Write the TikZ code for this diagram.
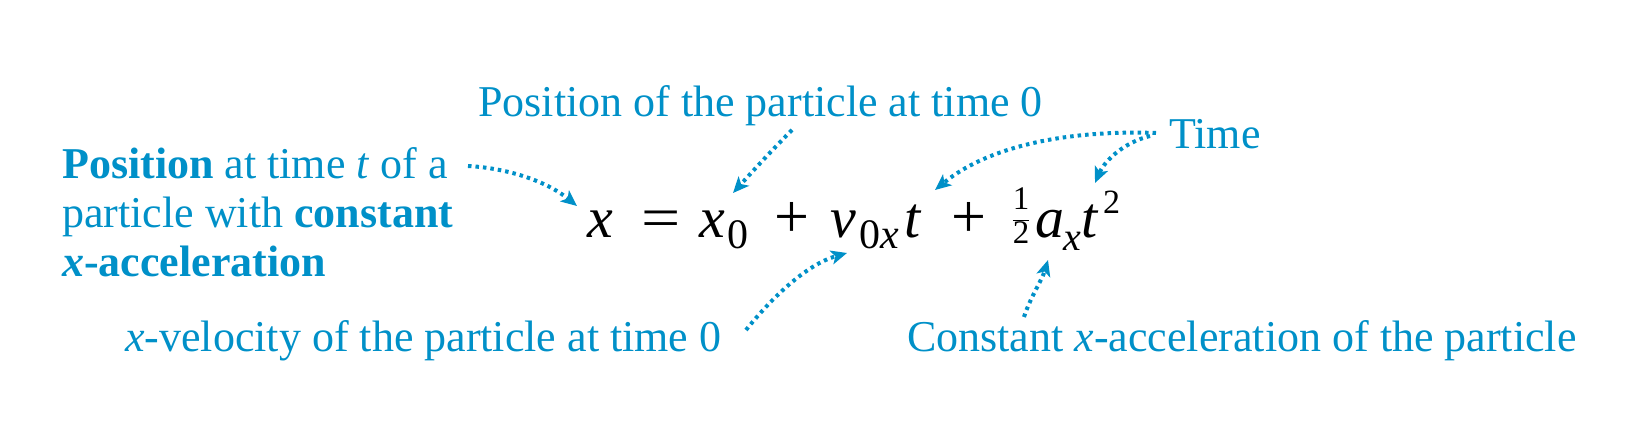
\documentclass[tikz,border=0pt]{standalone}
\usepackage{fontspec}
\setmainfont{Liberation Serif}
\usetikzlibrary{arrows.meta}
\definecolor{cblue}{RGB}{0,144,200}
\begin{document}
\begin{tikzpicture}[x=1pt,y=-1pt,
  lbl/.style={text=cblue, font=\fontsize{44}{49}\selectfont, inner sep=0pt, anchor=base west},
  eq/.style={font=\fontsize{58}{58}\selectfont\itshape, inner sep=0pt, anchor=base west},
  eqrm/.style={font=\fontsize{62}{62}\selectfont, inner sep=0pt, anchor=base west},
  sub/.style={font=\fontsize{42}{42}\selectfont, inner sep=0pt, anchor=base west},
  arr/.style={draw=cblue, line width=4pt, dash pattern=on 3.5pt off 4pt,
    -{Stealth[length=16pt,width=14pt,inset=4pt]}}]
\useasboundingbox (0,0) rectangle (1630,444);
% labels
\node[lbl, anchor=north west, align=left] (lpos) at (62,147)
  {\textbf{Position} at time \textit{t} of a\\ particle with \textbf{constant}\\ \textbf{\textit{x}-acceleration}};
\node[lbl] (ltop) at (478,116) {Position of the particle at time 0};
\node[lbl] (ltime) at (1169,148) {Time};
\node[lbl] (lvel) at (125,351) {\textit{x}-velocity of the particle at time 0};
\node[lbl] (lacc) at (907,351) {Constant \textit{x}-acceleration of the particle};
% equation
\def\B{237}
\node[eq] (ex) at (587,\B) {x};
\node[eq, font=\fontsize{58}{58}\selectfont] (eeq) at (641,\B) {\scalebox{1.2}[1]{=}};
\node[eq] (ex0) at (699,\B) {x};
\node[sub] (ex0s) at (727,248) {0};
\node[eqrm] (ep1) at (774,\B) {+};
\node[eq] (ev) at (830,\B) {v};
\node[sub] (evs) at (859,248) {0\textit{x}};
\node[eq] (et) at (904,\B) {t};
\node[eqrm] (ep2) at (951,\B) {+};
\node[inner sep=0pt, font=\fontsize{33}{33}\selectfont] (ehalf) at (1021,216) {$\displaystyle\frac{\textup{1}}{\textup{2}}$};
\node[eq] (ea) at (1035,\B) {a};
\node[sub, font=\fontsize{40}{40}\selectfont\itshape] (eas) at (1063,250) {x};
\node[eq] (ett) at (1081,\B) {t};
\node[sub, font=\fontsize{34}{34}\selectfont] (etts) at (1103,213) {2};
% arrows
\coordinate (s1) at (468,166);
\coordinate (s2) at (792,130);
\coordinate (s3) at (1156,133);
\coordinate (s4) at (1150,136);
\coordinate (s5) at (746,330);
\coordinate (s6) at (1024,317);
\draw[arr] (s1) .. controls (505,168) and (545,180) .. ([xshift=-10pt,yshift=31pt]ex.base west);
\draw[arr] (s2) .. controls (772,150) and (752,172) .. ([xshift=34pt,yshift=44pt]ex0.base west);
\draw[arr] (s3) .. controls (1070,130) and (990,145) .. ([xshift=31pt,yshift=47pt]et.base west);
\draw[arr] (s4) .. controls (1125,142) and (1105,160) .. ([xshift=14pt,yshift=54pt]ett.base west);
\draw[arr] (s5) .. controls (770,300) and (805,265) .. ([xshift=-12pt,yshift=-5pt]evs.base west);
\draw[arr] (s6) .. controls (1030,298) and (1042,280) .. ([xshift=13pt,yshift=-23pt]ea.base west);
\end{tikzpicture}
\end{document}
